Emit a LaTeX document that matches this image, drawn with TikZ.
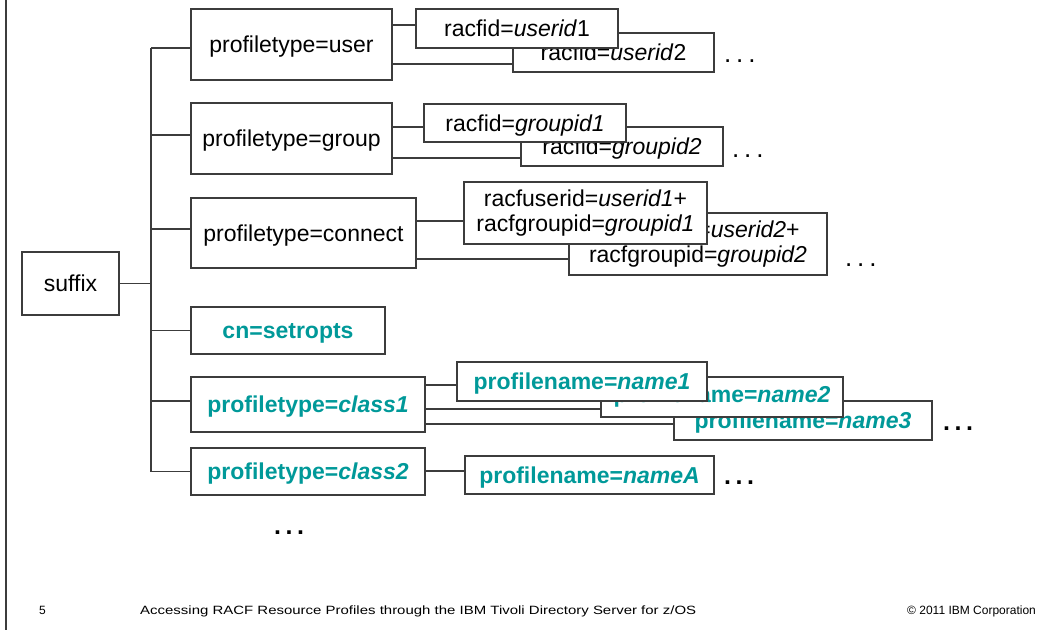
\documentclass[tikz,border=0pt]{standalone}
\usepackage{fontspec}
\setmainfont{Liberation Sans}
\definecolor{ibmteal}{RGB}{0,153,153}
\definecolor{edge}{RGB}{60,60,60}
\begin{document}
\begin{tikzpicture}[x=1pt,y=-1pt,
  box/.style={draw=edge, line width=1.2pt, fill=white, inner sep=0pt, align=center,
    text depth=0pt, font=\fontsize{23}{25.5}\selectfont},
  tbox/.style={box, text=ibmteal, font=\fontsize{23}{25.5}\selectfont\bfseries},
  conn/.style={draw=edge, line width=1.2pt},
  ell/.style={font=\fontsize{26}{28}\selectfont, anchor=base west, inner sep=0pt},
  bell/.style={ell, font=\fontsize{25}{28}\selectfont\bfseries},
  foot/.style={font=\fontsize{12}{14}\selectfont, anchor=base west, inner sep=0pt}]
\useasboundingbox (0,0) rectangle (1057,630);
\draw[edge, line width=2pt] (6,0) -- (6,630);

% root and first level
\node[box, minimum width=97pt, minimum height=63pt] (suffix) at (70.5,283.5) {suffix};
\coordinate (tk) at (151,283);
\node[box, minimum width=201pt, minimum height=71pt] (user) at (291.5,44.5) {profiletype=user};
\node[box, minimum width=201pt, minimum height=71pt] (group) at (291.5,138.5) {profiletype=group};
\node[box, minimum width=225pt, minimum height=70pt] (connect) at (303.5,233) {profiletype=connect};
\node[tbox, minimum width=194pt, minimum height=47pt] (setropts) at (288,330.5) {cn=setropts};
\node[tbox, minimum width=234pt, minimum height=55pt] (class1) at (308,404.5) {profiletype=\textit{class1}};
\node[tbox, minimum width=234pt, minimum height=47pt] (class2) at (308,471.5) {profiletype=\textit{class2}};

\draw[conn] (suffix.east) -- (suffix.east -| tk);
\draw[conn] ([yshift=-3.5pt]user.west -| tk) -- (class2.west -| tk);
\draw[conn] ([yshift=-3.5pt]user.west -| tk) -- ([yshift=-3.5pt]user.west);
\draw[conn] ([yshift=3.5pt]group.west -| tk) -- ([yshift=3.5pt]group.west);
\draw[conn] ([yshift=4pt]connect.west -| tk) -- ([yshift=4pt]connect.west);
\draw[conn] (setropts.west -| tk) -- (setropts.west);
\draw[conn] ([yshift=3.5pt]class1.west -| tk) -- ([yshift=3.5pt]class1.west);
\draw[conn] (class2.west -| tk) -- (class2.west);

% user children
\node[box, minimum width=201pt, minimum height=39pt] (r2) at (613.5,52.5) {racfid=\textit{userid}2};
\node[box, minimum width=202pt, minimum height=39pt] (r1) at (517,28.5) {racfid=\textit{userid}1};
\draw[conn] ([yshift=3.5pt]r1.west -| user.east) -- ([yshift=3.5pt]r1.west);
\draw[conn] ([yshift=-11.5pt]r2.west -| user.east) -- ([yshift=-11.5pt]r2.west);
\node[ell] (eu) at (724,62) {.\hspace{4.8pt}.\hspace{4.8pt}.};

% group children
\node[box, minimum width=202pt, minimum height=39pt] (g2) at (622,146.5) {racfid=\textit{groupid2}};
\node[box, minimum width=202pt, minimum height=38pt] (g1) at (525,123) {racfid=\textit{groupid1}};
\draw[conn] ([yshift=-4pt]g1.west -| group.east) -- ([yshift=-4pt]g1.west);
\draw[conn] ([yshift=-11.5pt]g2.west -| group.east) -- ([yshift=-11.5pt]g2.west);
\node[ell] (eg) at (732,157) {.\hspace{4.8pt}.\hspace{4.8pt}.};

% connect children
\node[box, text depth=4.8pt, minimum width=258pt, minimum height=62pt] (c2) at (698,244) {racfuserid=\textit{userid2}+\\racfgroupid=\textit{groupid2}};
\node[box, text depth=4.8pt, minimum width=243pt, minimum height=62pt] (c1) at (585.5,213) {racfuserid=\textit{userid1}+\\racfgroupid=\textit{groupid1}};
\draw[conn] ([yshift=-8pt]c1.west -| connect.east) -- ([yshift=-8pt]c1.west);
\draw[conn] ([yshift=-15pt]c2.west -| connect.east) -- ([yshift=-15pt]c2.west);
\node[ell] (ec) at (845,266) {.\hspace{4.8pt}.\hspace{4.8pt}.};

% class1 children
\node[tbox, minimum width=258pt, minimum height=39pt] (n3) at (803,420.5) {profilename=\textit{name3}};
\node[tbox, text depth=6pt, minimum width=242pt, minimum height=40pt] (n2) at (722,397) {profilename=\textit{name2}};
\node[tbox, minimum width=250pt, minimum height=39pt] (n1) at (582,381.5) {profilename=\textit{name1}};
\draw[conn] ([yshift=-3.5pt]n1.west -| class1.east) -- ([yshift=-3.5pt]n1.west);
\draw[conn] ([yshift=-12pt]n2.west -| class1.east) -- ([yshift=-12pt]n2.west);
\draw[conn] ([yshift=-3.5pt]n3.west -| class1.east) -- ([yshift=-3.5pt]n3.west);
\node[bell] (e1) at (943,430) {.\hspace{4.5pt}.\hspace{4.5pt}.};

% class2 children
\node[tbox, minimum width=249pt, minimum height=38pt] (nA) at (589.5,475) {profilename=\textit{nameA}};
\draw[conn] ([yshift=4pt]nA.west -| class2.east) -- ([yshift=4pt]nA.west);
\node[bell] (e2) at (724,484) {.\hspace{4.5pt}.\hspace{4.5pt}.};

\node[bell] (e3) at (274,534) {.\hspace{4.5pt}.\hspace{4.5pt}.};

% footer
\node[foot] (pg) at (39,614.5) {5};
\node[foot] (title) at (140,614.5) {\resizebox{556pt}{\height}{Accessing RACF Resource Profiles through the IBM Tivoli Directory Server for z/OS}};
\node[foot] (copy) at (907,614.5) {© 2011 IBM Corporation};
\end{tikzpicture}
\end{document}
